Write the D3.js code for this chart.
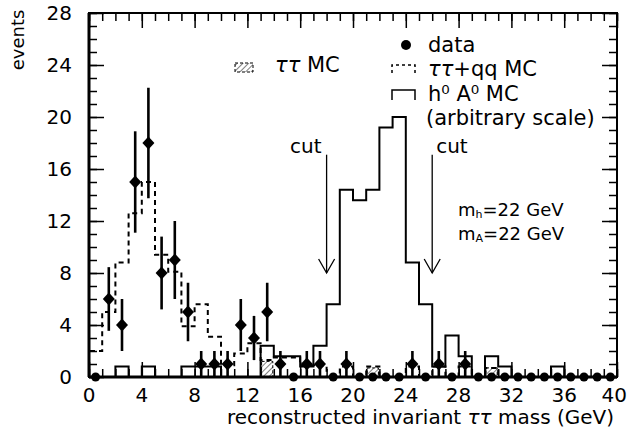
<!DOCTYPE html>
<html><head><meta charset="utf-8">
<script src="https://cdn.jsdelivr.net/npm/d3@7"></script>
<style>
body{margin:0;background:#fff}
text,tspan{font-family:"DejaVu Sans",sans-serif;fill:#000}
</style>
</head><body>
<svg id="c" width="628" height="435"></svg>
<script>
// ---- data ----
const binLow = [0,1,2,3,4,5,6,7,8,9,10,11,12,13,14,15,16,17,18,19,20,21,22,23,24,25,26,27,28,29,30,31,32,33,34,35,36,37,38,39];
const dataCounts = [0,6,4,15,18,8,9,5,1,1,1,4,3,5,1,0,1,1,0,1,0,0,0,0,1,0,1,0,1,0,0,0,0,0,0,0,0,0,0,0];
const dataErrors = [0,2.45,2.0,3.9,4.25,2.8,3.0,2.25,1,1,1,2,1.7,2.25,1,0,1,1,0,1,0,0,0,0,1,0,1,0,1,0,0,0,0,0,0,0,0,0,0,0];
const ttqqMC = [2.0,5.0,8.8,12.6,15.0,9.4,8.1,3.9,5.6,3.1,0.9,1.8,2.6,1.3,1.5,1.5,0.9,0.9,0,0.8,0,0.8,0,0,0.8,0,0.8,0,0.8,0,0.7,0,0,0,0,0,0,0,0,0];
const ttMC = [0,0,0,0,0,0,0,0,0,0,0,0,0,1.2,0,0,0,0,0,0,0,0.7,0,0,0,0,0,0,0,0,0.7,0,0,0,0,0,0,0,0,0];
const hAMC = [0,0,0.8,0,0.8,0,0,0.8,0.8,0.8,0,0,0,2.4,1.6,1.6,0.8,2.4,5.6,14.4,13.6,14.4,19.2,20.0,8.8,5.6,0.8,3.2,1.6,0,1.6,0.8,0,0,0,0.8,0,0,0,0];
const xTicks = [0,4,8,12,16,20,24,28,32,36,40];
const yTicks = [0,4,8,12,16,20,24,28];
const cuts = [18,26];
const binWidth = 1;

// ---- layout ----
const svg = d3.select("#c");
const L = 89, R = 617, T = 13, B = 377;
const x = d3.scaleLinear().domain([0,40]).range([L,R]);
const y = d3.scaleLinear().domain([0,28]).range([B,T]);

const defs = svg.append("defs");
const pat = defs.append("pattern").attr("id","hatch").attr("patternUnits","userSpaceOnUse")
  .attr("width",4).attr("height",4).attr("patternTransform","rotate(45)");
pat.append("line").attr("x1",0).attr("y1",0).attr("x2",0).attr("y2",4).attr("stroke","#000").attr("stroke-width",1);

function stepPoints(vals){
  const pts = [[binLow[0],0]];
  vals.forEach((v,i)=>{ pts.push([binLow[i],v]); pts.push([binLow[i]+binWidth,v]); });
  pts.push([binLow[binLow.length-1]+binWidth,0]);
  return pts;
}
const line = d3.line().x(d=>x(d[0])).y(d=>y(d[1]));

// hatched tau tau MC
svg.append("g").selectAll("rect").data(ttMC.map((v,i)=>({x:binLow[i],v})).filter(d=>d.v>0))
  .join("rect").attr("x",d=>x(d.x)+1).attr("width",d=>x(d.x+binWidth)-x(d.x)-2)
  .attr("y",d=>y(d.v)).attr("height",d=>y(0)-y(d.v))
  .attr("fill","url(#hatch)").attr("stroke","#000").attr("stroke-width",1).attr("stroke-dasharray","3,2");

// dashed tau tau + qq MC
svg.append("path").attr("d",line(stepPoints(ttqqMC))).attr("fill","none")
  .attr("stroke","#000").attr("stroke-width",2).attr("stroke-dasharray","5,4");
// solid h A MC
svg.append("path").attr("d",line(stepPoints(hAMC))).attr("fill","none")
  .attr("stroke","#000").attr("stroke-width",2);

// cut arrows
const ag = svg.append("g");
cuts.forEach(c=>{
  const xx = x(c), y1 = y(17.1), y2 = y(8.0);
  ag.append("line").attr("x1",xx).attr("x2",xx).attr("y1",y1).attr("y2",y2).attr("stroke","#000").attr("stroke-width",1.3);
  ag.append("path").attr("d",`M${xx-8},${y2-14}L${xx},${y2}L${xx+8},${y2-14}`).attr("fill","none").attr("stroke","#000").attr("stroke-width",1.3);
});
svg.append("text").attr("x",x(cuts[0])-5).attr("y",153).attr("text-anchor","end").attr("font-size",20).text("cut");
svg.append("text").attr("x",x(cuts[1])+4).attr("y",153).attr("text-anchor","start").attr("font-size",20).text("cut");

// data
const pts = dataCounts.map((v,i)=>({c:binLow[i]+binWidth/2,v,e:dataErrors[i]}));
const dg = svg.append("g");
dg.selectAll("line.err").data(pts.filter(d=>d.v>0)).join("line").attr("class","err")
  .attr("x1",d=>x(d.c)).attr("x2",d=>x(d.c)).attr("y1",d=>y(d.v+d.e)).attr("y2",d=>y(Math.max(0,d.v-d.e)))
  .attr("stroke","#000").attr("stroke-width",2.6);
dg.selectAll("path.dia").data(pts.filter(d=>d.v>0)).join("path").attr("class","dia")
  .attr("d",d=>{const cx=x(d.c), cy=y(d.v); return `M${cx},${cy-6.5}L${cx+6},${cy}L${cx},${cy+6.5}L${cx-6},${cy}Z`;})
  .attr("fill","#000");
dg.selectAll("circle").data(pts.filter(d=>d.v===0)).join("circle")
  .attr("cx",d=>x(d.c)).attr("cy",d=>y(0)).attr("r",4.5).attr("fill","#000");

// axes (ticks inside)
const minorX = d3.range(0,41,1), minorY = d3.range(0,29,1);
function tickAxis(axisFn, scale, vals, size, tr){
  const g = svg.append("g").attr("transform",tr)
    .call(axisFn(scale).tickValues(vals).tickSize(-size).tickFormat(""));
  g.select(".domain").remove();
  g.selectAll("line").attr("stroke","#000").attr("stroke-width",1.5);
  return g;
}
tickAxis(d3.axisBottom,x,minorX,8,`translate(0,${B})`);
tickAxis(d3.axisBottom,x,xTicks,15,`translate(0,${B})`);
tickAxis(d3.axisTop,x,minorX,8,`translate(0,${T})`);
tickAxis(d3.axisTop,x,xTicks,15,`translate(0,${T})`);
tickAxis(d3.axisLeft,y,minorY,8,`translate(${L},0)`);
tickAxis(d3.axisLeft,y,yTicks,15,`translate(${L},0)`);
tickAxis(d3.axisRight,y,minorY,8,`translate(${R},0)`);
tickAxis(d3.axisRight,y,yTicks,15,`translate(${R},0)`);

// tick labels
svg.append("g").selectAll("text").data(xTicks).join("text")
  .attr("x",d=>d===40 ? 627 : x(d)).attr("y",402)
  .attr("text-anchor",d=>d===40 ? "end" : "middle").attr("font-size",20).text(d=>d);
svg.append("g").selectAll("text").data(yTicks).join("text")
  .attr("x",72).attr("y",d=>y(d)+7).attr("text-anchor","end").attr("font-size",20).text(d=>d);

// frame
svg.append("rect").attr("x",L).attr("y",T).attr("width",R-L).attr("height",B-T)
  .attr("fill","none").attr("stroke","#000").attr("stroke-width",2);
svg.append("line").attr("x1",L).attr("x2",L).attr("y1",T).attr("y2",B).attr("stroke","#000").attr("stroke-width",3);
svg.append("line").attr("x1",L).attr("x2",R).attr("y1",B).attr("y2",B).attr("stroke","#000").attr("stroke-width",3);

// axis titles
const xt = svg.append("text").attr("x",614).attr("y",424).attr("text-anchor","end").attr("font-size",20);
xt.append("tspan").text("reconstructed invariant ");
xt.append("tspan").attr("font-style","italic").text("ττ");
xt.append("tspan").text(" mass (GeV)");
svg.append("text").attr("transform","translate(24,40) rotate(-90)").attr("text-anchor","middle")
  .attr("font-size",18).text("events");

// legend
const lg = svg.append("g");
lg.append("rect").attr("x",235).attr("y",63).attr("width",18).attr("height",9)
  .attr("fill","url(#hatch)").attr("stroke","#000").attr("stroke-width",1).attr("stroke-dasharray","3,2");
const t1 = lg.append("text").attr("x",275).attr("y",72).attr("font-size",21);
t1.append("tspan").attr("font-style","italic").text("ττ");
t1.append("tspan").text(" MC");
lg.append("circle").attr("cx",406).attr("cy",45).attr("r",5).attr("fill","#000");
lg.append("text").attr("x",428).attr("y",52).attr("font-size",21).text("data");
lg.append("path").attr("d","M392,73V65H415V73").attr("fill","none").attr("stroke","#000").attr("stroke-width",1.5).attr("stroke-dasharray","3,3");
const t2 = lg.append("text").attr("x",428).attr("y",76).attr("font-size",21);
t2.append("tspan").attr("font-style","italic").text("ττ");
t2.append("tspan").text("+qq MC");
lg.append("path").attr("d","M392,100V90H415V100").attr("fill","none").attr("stroke","#000").attr("stroke-width",1.5);
lg.append("text").attr("x",428).attr("y",101).attr("font-size",21).text("h⁰ A⁰ MC");
lg.append("text").attr("x",426).attr("y",125).attr("font-size",21).text("(arbitrary scale)");

const m1 = svg.append("text").attr("x",458).attr("y",216).attr("font-size",18);
m1.append("tspan").attr("fill","#000").text("m");
m1.append("tspan").attr("fill","#000").attr("font-size",11).attr("dy",2).text("h");
m1.append("tspan").attr("fill","#000").attr("dy",-2).text("=22 GeV");
const m2 = svg.append("text").attr("x",458).attr("y",240).attr("font-size",18);
m2.append("tspan").attr("fill","#000").text("m");
m2.append("tspan").attr("fill","#000").attr("font-size",11).attr("dy",2).text("A");
m2.append("tspan").attr("fill","#000").attr("dy",-2).text("=22 GeV");
</script>
</body></html>
